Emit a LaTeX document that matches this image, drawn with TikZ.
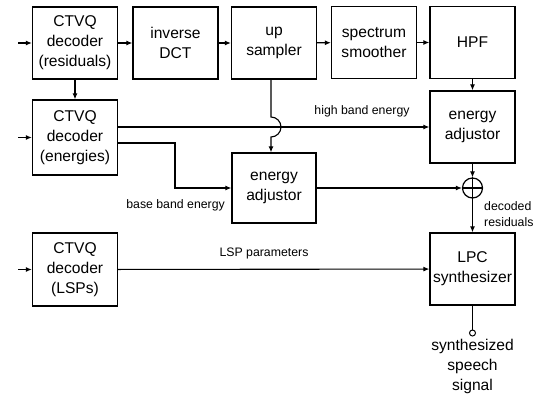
\documentclass[tikz,border=0pt]{standalone}
\usepackage{fontspec}
\setmainfont{Liberation Sans}
\usetikzlibrary{arrows.meta}
\begin{document}
\begin{tikzpicture}[x=1pt,y=-1pt,
 blk/.style={draw,line width=1.3pt,minimum width=85pt,minimum height=72pt,inner sep=0pt,align=center,font=\fontsize{15.6}{20}\selectfont},
 lbl/.style={font=\fontsize{12.3}{15}\selectfont,inner sep=0pt},
 conn/.style={line width=1.1pt,-{Latex[length=6pt,width=5pt]}},
 wire/.style={line width=1.1pt},
]
\useasboundingbox (0,0) rectangle (545,394);
\node[blk] (res) at (75,43) {CTVQ\\decoder\\(residuals)};
\node[blk] (dct) at (175.5,43) {inverse\\DCT};
\node[blk] (up) at (274,43) {up\\sampler};
\node[blk] (sm) at (374,42.5) {spectrum\\smoother};
\node[blk] (hpf) at (472.5,42.5) {HPF};
\node[blk,minimum height=75pt] (en) at (75,137.5) {CTVQ\\decoder\\(energies)};
\node[blk] (adjR) at (472.5,127) {energy\\adjustor};
\node[blk,minimum width=84pt,minimum height=70pt] (adjM) at (274,188) {energy\\adjustor};
\node[blk,minimum height=73pt] (lsp) at (75,269.5) {CTVQ\\decoder\\(LSPs)};
\node[blk] (lpc) at (472.5,269) {LPC\\synthesizer};
\node[draw,circle,line width=1.2pt,minimum size=20pt,inner sep=0pt] (sum) at (472.5,188) {};
\draw[wire] (sum.north) -- (sum.south) (sum.west) -- (sum.east);
\node[draw,circle,line width=1pt,minimum size=6pt,inner sep=0pt] (out) at (472.5,333) {};
\node[align=center,inner sep=0pt,font=\fontsize{15.6}{20}\selectfont] (sig) at (472.5,366) {synthesized\\speech\\signal};

\coordinate (in1) at (18,43);
\coordinate (in2) at (18,137.5);
\coordinate (in3) at (18,269.5);
\draw[conn] (in1) -- (res);
\draw[conn] (in2) -- (en);
\draw[conn] (in3) -- (lsp);
\draw[conn] (res) -- (dct);
\draw[conn] (dct) -- (up);
\draw[conn] (up) -- (sm);
\draw[conn] (sm) -- (hpf);
\draw[conn] (hpf) -- (adjR);
\draw[conn] (res) -- (en);
\draw[conn] (en.east |- adjR.west) -- (adjR.west);
\coordinate (bend) at (175,165);
\draw[conn] ([yshift=-5.5pt]en.east) -| (bend) |- (adjM.west);
\coordinate (hump) at (271,117);
\draw[conn] ([xshift=-3pt]up.south) -- (hump) arc[start angle=-90,end angle=90,radius=10] -- ([xshift=-3pt]adjM.north);
\draw[conn] (adjM) -- (sum);
\draw[conn] (adjR) -- (sum);
\draw[conn] (sum) -- (lpc);
\draw[conn] (lsp) -- (lpc);
\draw[wire] (lpc) -- (out);

\node[lbl] (hb) at (362,111) {high band energy};
\node[lbl,anchor=east] (bb) at (225,205) {base band energy};
\node[lbl] (lp) at (264,253) {LSP parameters};
\node[lbl,align=left,anchor=west,font=\fontsize{12.3}{16}\selectfont] (dr) at (484,214) {decoded\\residuals};
\end{tikzpicture}
\end{document}
